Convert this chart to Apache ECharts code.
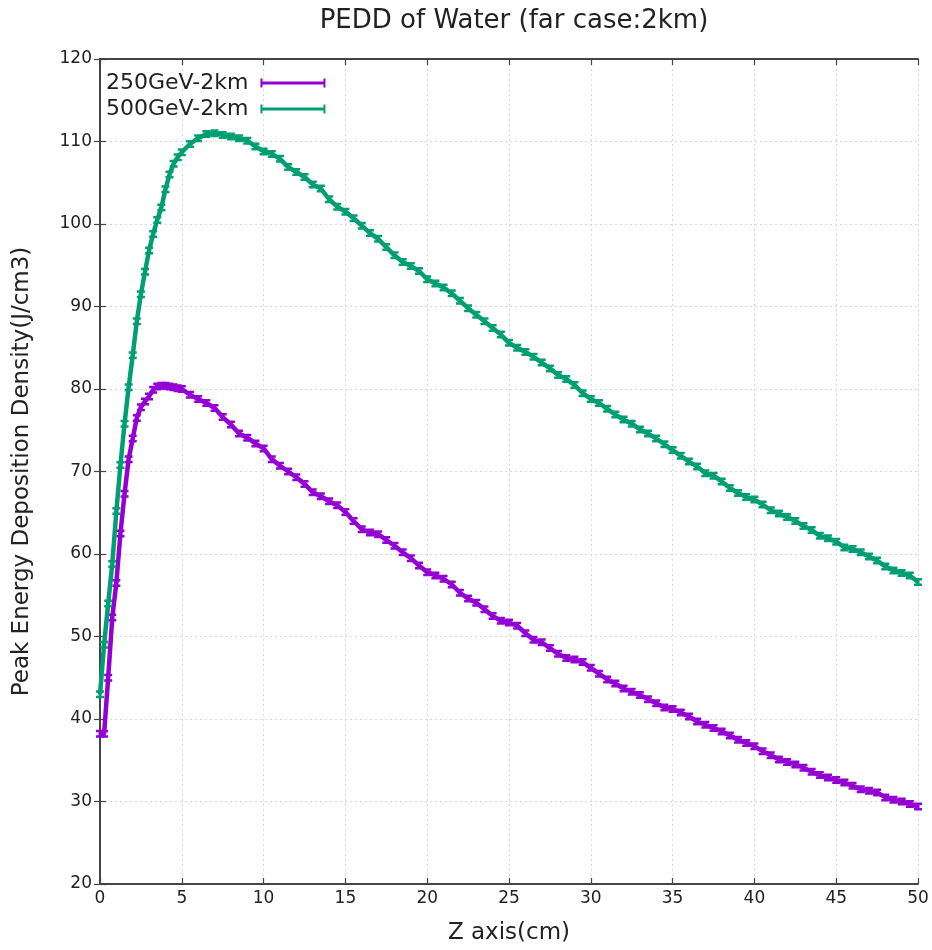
<!DOCTYPE html>
<html><head><meta charset="utf-8">
<script src="https://cdn.jsdelivr.net/npm/echarts@6/dist/echarts.min.js"></script>
<style>html,body{margin:0;padding:0;background:#fff}#c{width:932px;height:950px}</style>
</head><body><div id="c"></div>
<script>
const titleText = 'PEDD of Water (far case:2km)';
const xName = 'Z axis(cm)';
const yName = 'Peak Energy Deposition Density(J/cm3)';
const seriesNames = ['250GeV-2km', '500GeV-2km'];
const zX = [0,0.25,0.5,0.75,1,1.25,1.5,1.75,2,2.25,2.5,2.75,3,3.25,3.5,3.75,4,4.25,4.5,4.75,5,
  5.5,6,6.5,7,7.5,8,8.5,9,9.5,10,
  10.5,11,11.5,12,12.5,13,13.5,14,14.5,15,
  15.5,16,16.5,17,17.5,18,18.5,19,19.5,20,
  20.5,21,21.5,22,22.5,23,23.5,24,24.5,25,
  25.5,26,26.5,27,27.5,28,28.5,29,29.5,30,
  30.5,31,31.5,32,32.5,33,33.5,34,34.5,35,
  35.5,36,36.5,37,37.5,38,38.5,39,39.5,40,
  40.5,41,41.5,42,42.5,43,43.5,44,44.5,45,
  45.5,46,46.5,47,47.5,48,48.5,49,49.5,50];
const pedd250 = [38.2,38.2,45,52.3,56.5,62.5,67.3,71.5,74.0,76.5,77.8,78.5,79.1,79.9,80.3,80.4,80.4,80.3,80.2,80.1,80.0,
  79.3,78.8,78.3,77.7,76.6,75.7,74.6,74.1,73.4,72.8,
  71.5,70.7,70.0,69.3,68.5,67.5,67.0,66.4,65.9,65.1,
  64.0,63.0,62.6,62.4,61.7,61.0,60.2,59.5,58.6,57.8,
  57.4,57.0,56.3,55.3,54.6,54.1,53.3,52.5,51.9,51.7,
  51.3,50.4,49.6,49.3,48.6,47.9,47.4,47.2,46.9,46.2,
  45.5,44.8,44.3,43.7,43.3,42.9,42.4,41.9,41.4,41.2,
  40.8,40.3,39.7,39.3,38.9,38.5,38.0,37.5,37.1,36.7,
  36.1,35.6,35.1,34.8,34.5,34.1,33.6,33.2,32.9,32.6,
  32.3,31.9,31.5,31.3,31.1,30.5,30.2,30.0,29.7,29.4];
const pedd500 = [43,49,54,58.8,65.2,70.8,75.8,80.2,84.1,88.2,91.5,94.2,96.8,98.8,100.5,102,104.2,106,107.3,108.1,108.7,
  109.7,110.4,110.9,111,110.8,110.6,110.4,110.1,109.4,108.8,
  108.5,107.9,106.9,106.3,105.7,104.8,104.3,103.0,102.1,101.5,
  100.7,99.8,98.9,98.2,97.2,96.2,95.4,94.9,94.3,93.3,
  92.8,92.3,91.6,90.7,89.8,89.0,88.2,87.4,86.6,85.6,
  85.0,84.5,83.9,83.2,82.5,81.7,81.2,80.5,79.5,78.8,
  78.3,77.6,76.9,76.3,75.8,75.1,74.6,74.0,73.3,72.6,
  71.9,71.2,70.6,69.8,69.5,68.8,68.0,67.4,66.9,66.6,
  66.0,65.3,64.9,64.5,64.0,63.4,62.9,62.2,61.9,61.5,
  60.8,60.6,60.2,59.7,59.2,58.5,58.0,57.7,57.4,56.6];
const colors = ['#9400d3', '#009e73'];

const FONT = '"DejaVu Sans", sans-serif';
const TXT = '#222';
const frame = {show: true, lineStyle: {color: '#444', width: 1.8}};
const tickIn = {show: true, inside: true, length: 6, lineStyle: {color: '#444', width: 1.2}};
const grid = {show: true, lineStyle: {color: '#d8d8d8', type: [2, 3], width: 1}};
const errSym = 'path://M0,0H8V2.5H5.5V5.5H8V8H0V5.5H2.5V2.5H0Z';
const legendIcon = 'path://M0,0H2V3H63V0H65V9H63V6H2V9H0Z';

const chart = echarts.init(document.getElementById('c'), null, {renderer: 'canvas'});
function mk(i, ys) {
  return {
    name: seriesNames[i], type: 'line', xAxisIndex: 0, yAxisIndex: 0,
    data: zX.map((x, k) => [x, ys[k]]),
    lineStyle: {color: colors[i], width: 4.5},
    itemStyle: {color: colors[i]},
    symbol: errSym, symbolSize: [8, 8], showSymbol: true,
    animation: false, clip: false, z: 3 + i
  };
}
chart.setOption({
  animation: false,
  textStyle: {fontFamily: FONT},
  title: {text: titleText, left: 509, top: 3, textAlign: 'center',
    textStyle: {fontFamily: FONT, fontSize: 26, fontWeight: 'normal', color: TXT}},
  legend: {
    left: 101, top: 67, orient: 'vertical', align: 'right', itemGap: 4,
    itemWidth: 65, itemHeight: 9, icon: legendIcon,
    data: seriesNames,
    textStyle: {fontFamily: FONT, fontSize: 22, color: TXT, padding: [0, 7, 0, 0]}
  },
  grid: {left: 100, right: 14, top: 59, bottom: 51, containLabel: false},
  xAxis: [
    {type: 'value', min: 0, max: 50, interval: 5, position: 'bottom',
     name: xName, nameLocation: 'middle', nameGap: 38,
     nameTextStyle: {fontFamily: FONT, fontSize: 23, color: TXT},
     axisLine: frame, axisTick: tickIn, splitLine: grid,
     axisLabel: {fontFamily: FONT, fontSize: 17, color: TXT, margin: 6}},
    {type: 'value', min: 0, max: 50, interval: 5, position: 'top',
     axisLine: frame, axisTick: tickIn, splitLine: {show: false}, axisLabel: {show: false}}
  ],
  yAxis: [
    {type: 'value', min: 20, max: 120, interval: 10, position: 'left',
     name: yName, nameLocation: 'middle', nameGap: 66, nameRotate: 90,
     nameTextStyle: {fontFamily: FONT, fontSize: 23, color: TXT},
     axisLine: frame, axisTick: tickIn, splitLine: grid,
     axisLabel: {fontFamily: FONT, fontSize: 17, color: TXT, margin: 8}},
    {type: 'value', min: 20, max: 120, interval: 10, position: 'right',
     axisLine: frame, axisTick: tickIn, splitLine: {show: false}, axisLabel: {show: false}}
  ],
  series: [mk(0, pedd250), mk(1, pedd500)]
});
</script></body></html>
